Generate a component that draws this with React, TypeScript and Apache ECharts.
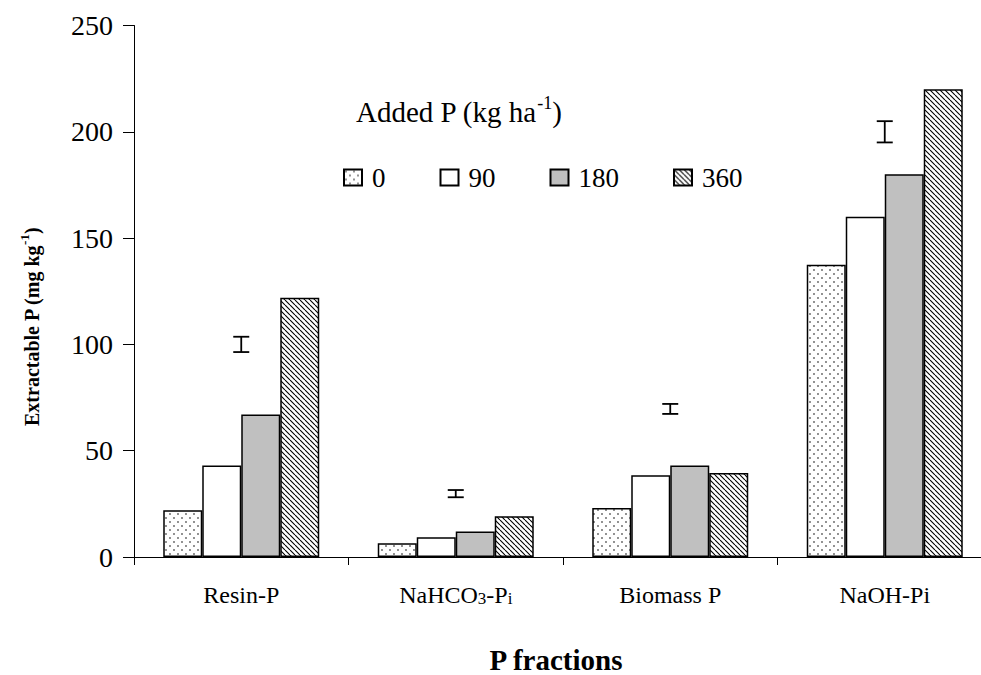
import React, { useEffect, useRef } from "react";
import * as echarts from "echarts";

const categories = ["Resin-P", "NaHCO3-Pi", "Biomass P", "NaOH-Pi"];
const categoryLabels = ["Resin-P", "NaHCO{sub|3}-P{sub|i}", "Biomass P", "NaOH-Pi"];
const seriesNames = ["0", "90", "180", "360"];
const values0 = [22, 6.5, 23, 137.5];
const values90 = [43, 9.3, 38.5, 160];
const values180 = [67, 12, 43, 180];
const values360 = [122, 19.2, 39.5, 220];
const errLow = [96.4, 28.1, 67.3, 195];
const errHigh = [103.6, 31.5, 72, 205];
const yTicks = { min: 0, max: 250, interval: 50 };

const FONT = "'Liberation Serif', 'Times New Roman', Times, serif";

function dotPattern() {
  const c = document.createElement("canvas");
  c.width = 8;
  c.height = 8;
  const ctx = c.getContext("2d")!;
  ctx.fillStyle = "#ffffff";
  ctx.fillRect(0, 0, 8, 8);
  ctx.fillStyle = "#000000";
  ctx.beginPath();
  ctx.arc(2, 2, 0.8, 0, Math.PI * 2);
  ctx.arc(6, 6, 0.8, 0, Math.PI * 2);
  ctx.fill();
  return { image: c, repeat: "repeat", imageWidth: 8, imageHeight: 8 } as any;
}

function hatchPattern() {
  const s = 5;
  const c = document.createElement("canvas");
  c.width = s;
  c.height = s;
  const ctx = c.getContext("2d")!;
  ctx.fillStyle = "#ffffff";
  ctx.fillRect(0, 0, s, s);
  ctx.strokeStyle = "#000000";
  ctx.lineWidth = 1.1;
  ctx.beginPath();
  for (const k of [-s, 0, s]) {
    ctx.moveTo(k, 0);
    ctx.lineTo(k + s, s);
  }
  ctx.stroke();
  return { image: c, repeat: "repeat", imageWidth: s, imageHeight: s } as any;
}

export default function App() {
  const ref = useRef<HTMLDivElement>(null);
  useEffect(() => {
    if (!ref.current) return;
    const chart = echarts.init(ref.current, null, { renderer: "svg" });
    const fills = [dotPattern(), "#ffffff", "#c0c0c0", hatchPattern()];
    const dataSets = [values0, values90, values180, values360];
    const barSeries = seriesNames.map((name, i) => ({
      name,
      type: "bar",
      data: dataSets[i],
      barWidth: 39,
      barGap: "0%",
      itemStyle: { color: fills[i], borderColor: "#000", borderWidth: 1.5 },
    }));
    const errData = categories.map((_, i) => [i, errLow[i], errHigh[i]]);
    const option: any = {
      animation: false,
      grid: {
        left: 134,
        width: 858,
        top: 25.5,
        height: 531.5,
        containLabel: false,
        outerBoundsMode: "none",
      },
      legend: {
        data: seriesNames,
        left: 343,
        top: 164,
        padding: 0,
        itemWidth: 18,
        itemHeight: 16,
        itemGap: 54,
        icon: "rect",
        textStyle: { fontFamily: FONT, fontSize: 27, color: "#000", padding: [0, 0, 0, 5] },
      },
      xAxis: {
        type: "category",
        data: categories,
        axisLine: { lineStyle: { color: "#000", width: 1 } },
        axisTick: { show: true, interval: 0, length: 8, lineStyle: { color: "#000" } },
        axisLabel: {
          interval: 0,
          margin: 26,
          fontFamily: FONT,
          fontSize: 24,
          color: "#000",
          formatter: (_v: string, idx: number) => categoryLabels[idx],
          rich: {
            sub: { fontFamily: FONT, fontSize: 17, lineHeight: 14, verticalAlign: "bottom", color: "#000" },
          },
        },
      },
      yAxis: {
        type: "value",
        min: yTicks.min,
        max: yTicks.max,
        interval: yTicks.interval,
        axisLine: { show: true, lineStyle: { color: "#000", width: 1 } },
        axisTick: { show: true, length: 11, lineStyle: { color: "#000" } },
        splitLine: { show: false },
        axisLabel: { margin: 21, fontFamily: FONT, fontSize: 28, color: "#000" },
      },
      graphic: [
        {
          type: "text",
          x: 356,
          y: 110,
          style: {
            text: "{a|Added P (kg ha}{s|-1}{a|)}",
            verticalAlign: "middle",
            rich: {
              a: { fontFamily: FONT, fontSize: 29, lineHeight: 32, fill: "#000", verticalAlign: "bottom" },
              s: { fontFamily: FONT, fontSize: 18, lineHeight: 14, fill: "#000", verticalAlign: "top" },
            },
          },
        },
        {
          type: "text",
          x: 30,
          y: 327,
          rotation: Math.PI / 2,
          style: {
            text: "{a|Extractable P (mg kg}{s|-1}{a|)}",
            align: "center",
            verticalAlign: "middle",
            rich: {
              a: { fontFamily: FONT, fontSize: 20, fontWeight: "bold", lineHeight: 24, fill: "#000", verticalAlign: "bottom" },
              s: { fontFamily: FONT, fontSize: 13, fontWeight: "bold", lineHeight: 10, fill: "#000", verticalAlign: "top" },
            },
          },
        },
        {
          type: "text",
          x: 556,
          y: 660,
          style: {
            text: "P fractions",
            align: "center",
            verticalAlign: "middle",
            font: `bold 29px ${FONT}`,
            fill: "#000",
          },
        },
      ],
      series: [
        ...barSeries,
        {
          name: "LSD",
          type: "custom",
          data: errData,
          z: 5,
          renderItem: (params: any, api: any) => {
            const x = api.value(0);
            const lo = api.coord([x, api.value(1)]);
            const hi = api.coord([x, api.value(2)]);
            const hw = 8;
            const style = { stroke: "#000", lineWidth: 1.8 };
            return {
              type: "group",
              children: [
                { type: "line", shape: { x1: lo[0], y1: lo[1], x2: hi[0], y2: hi[1] }, style },
                { type: "line", shape: { x1: lo[0] - hw, y1: lo[1], x2: lo[0] + hw, y2: lo[1] }, style },
                { type: "line", shape: { x1: hi[0] - hw, y1: hi[1], x2: hi[0] + hw, y2: hi[1] }, style },
              ],
            };
          },
        },
      ],
    };
    chart.setOption(option);
    return () => chart.dispose();
  }, []);
  return (
    <div
      ref={ref}
      style={{ position: "fixed", left: 0, top: 0, width: 981, height: 675, background: "#fff" }}
    />
  );
}
